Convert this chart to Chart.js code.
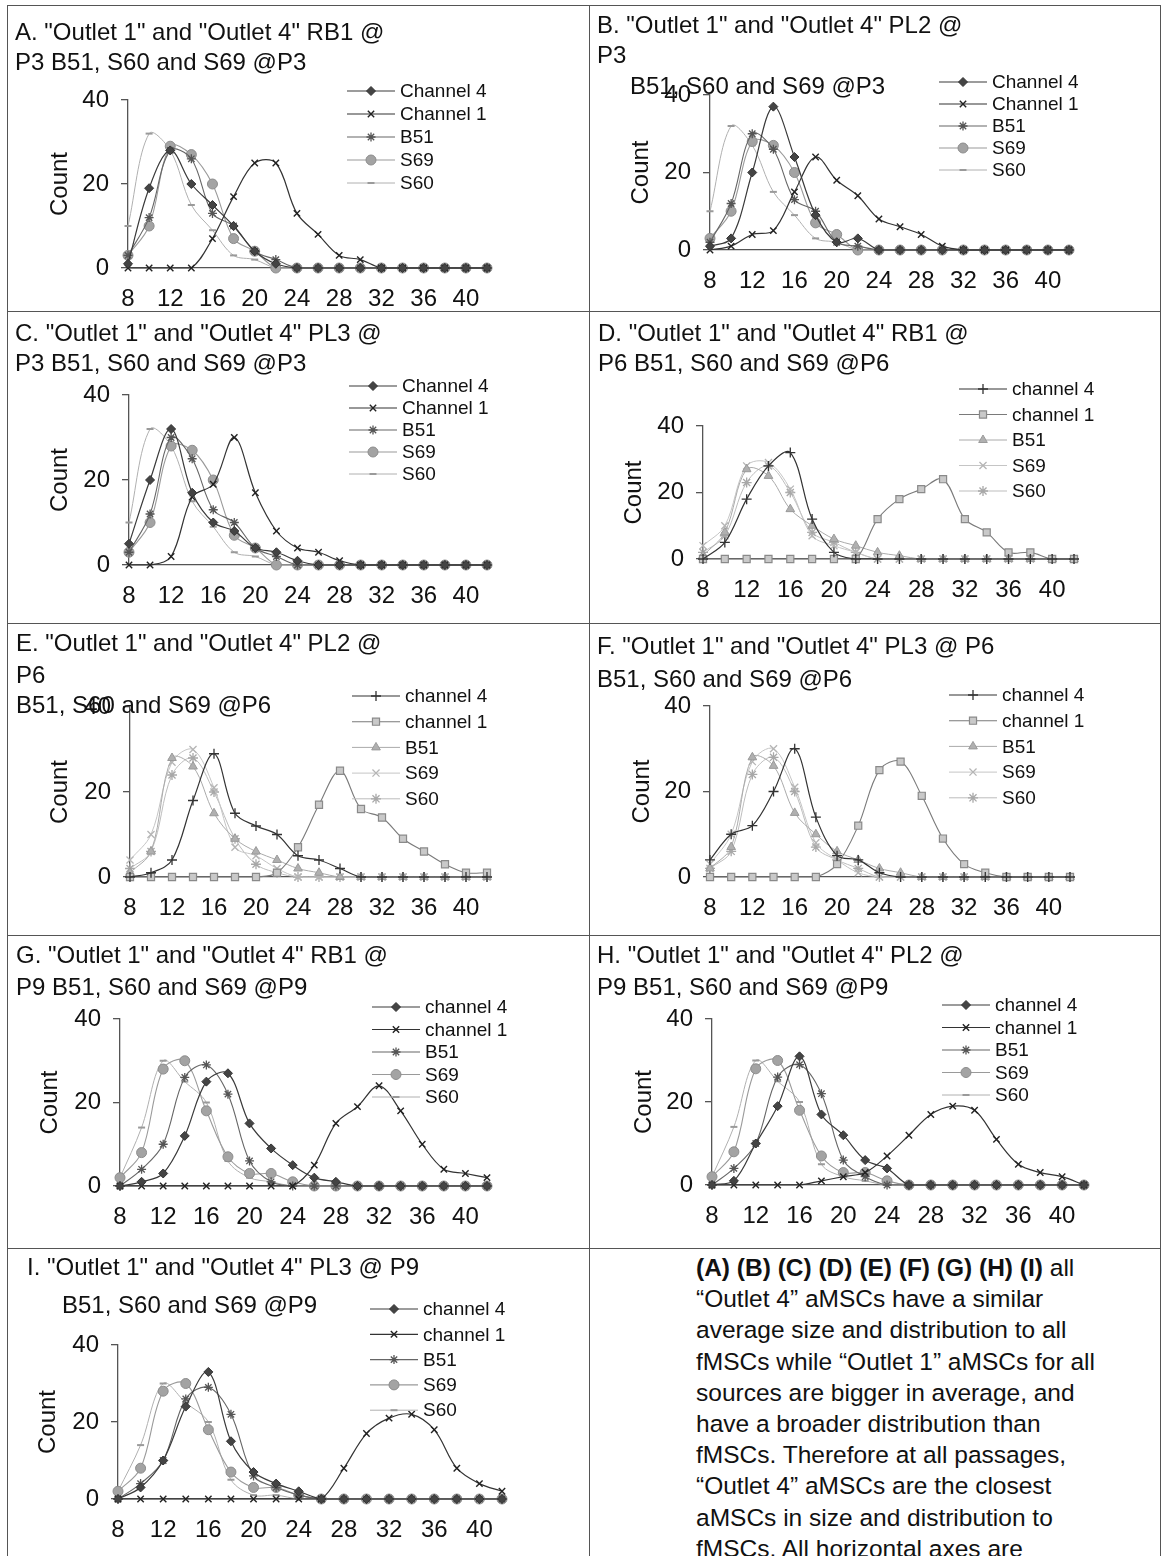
<!DOCTYPE html>
<html>
<head>
<meta charset="utf-8">
<script src="https://cdn.jsdelivr.net/npm/chart.js@4.4.1/dist/chart.umd.min.js"></script>
<style>
  html,body{margin:0;padding:0;background:#fff;}
  body{position:relative;width:1163px;height:1556px;overflow:hidden;font-family:"Liberation Sans",Arial,sans-serif;color:#111;}
  .hl{position:absolute;height:0;border-top:1.5px solid #555;}
  .vl{position:absolute;width:0;border-left:1.5px solid #555;}
  canvas{position:absolute;}
  .tl{position:absolute;font-size:24px;line-height:30px;white-space:pre;color:#111;}
  #note{position:absolute;left:696px;top:1252px;font-size:24.5px;line-height:31.2px;white-space:pre;color:#111;}
</style>
</head>
<body>
<div id="frame"></div>
<div id="note"><b>(A) (B) (C) (D) (E) (F) (G) (H) (I)</b> all
“Outlet 4” aMSCs have a similar
average size and distribution to all
fMSCs while “Outlet 1” aMSCs for all
sources are bigger in average, and
have a broader distribution than
fMSCs. Therefore at all passages,
“Outlet 4” aMSCs are the closest
aMSCs in size and distribution to
fMSCs. All horizontal axes are</div>
<script>
// ---------------- DATA ----------------
const xs = [8,10,12,14,16,18,20,22,24,26,28,30,32,34,36,38,40,42];
const xTickLabels = [8,12,16,20,24,28,32,36,40];
const yTicks = [0,20,40];
const namesCap = ['Channel 4','Channel 1','B51','S69','S60'];
const namesLow = ['channel 4','channel 1','B51','S69','S60'];

// A: RB1 @P3
const aCh4 = [1,19,28,20,15,10,4,1,0,0,0,0,0,0,0,0,0,0];
const aCh1 = [0,0,0,0,7,17,25,25,13,8,3,2,0,0,0,0,0,0];
const aB51 = [3,12,28,26,13,10,4,2,0,0,0,0,0,0,0,0,0,0];
const aS69 = [3,10,29,27,20,7,4,0,0,0,0,0,0,0,0,0,0,0];
const aS60 = [10,32,28,15,9,3,2,0,0,0,0,0,0,0,0,0,0,0];
// B: PL2 @P3
const bCh4 = [1,3,20,37,24,9,2,3,0,0,0,0,0,0,0,0,0,0];
const bCh1 = [0,1,4,5,15,24,18,14,8,6,4,1,0,0,0,0,0,0];
const bB51 = [2,12,30,26,13,10,2,1,0,0,0,0,0,0,0,0,0,0];
const bS69 = [3,10,28,27,20,7,4,0,0,0,0,0,0,0,0,0,0,0];
const bS60 = [10,32,27,15,9,3,2,0,0,0,0,0,0,0,0,0,0,0];
// C: PL3 @P3
const cCh4 = [5,20,32,17,10,8,4,3,1,0,0,0,0,0,0,0,0,0];
const cCh1 = [0,0,2,16,19,30,17,8,4,3,1,0,0,0,0,0,0,0];
const cB51 = [3,12,30,25,13,10,4,2,0,0,0,0,0,0,0,0,0,0];
const cS69 = [3,10,28,27,20,7,4,0,0,0,0,0,0,0,0,0,0,0];
const cS60 = [10,32,28,15,9,3,2,0,0,0,0,0,0,0,0,0,0,0];
// D: RB1 @P6
const dCh4 = [0,5,18,28,32,12,2,0,0,0,0,0,0,0,0,0,0,0];
const dCh1 = [0,0,0,0,0,0,0,0,12,18,21,24,12,8,2,2,0,0];
const dB51 = [1,8,27,25,15,10,6,4,2,1,0,0,0,0,0,0,0,0];
const dS69 = [4,10,28,29,21,7,4,2,0,0,0,0,0,0,0,0,0,0];
const dS60 = [2,7,23,28,20,8,5,2,0,0,0,0,0,0,0,0,0,0];
// E: PL2 @P6
const eCh4 = [0,1,4,18,29,15,12,10,5,4,2,0,0,0,0,0,0,0];
const eCh1 = [0,0,0,0,0,0,0,1,7,17,25,16,14,9,6,3,1,1];
const eB51 = [1,6,28,26,15,9,6,4,2,1,0,0,0,0,0,0,0,0];
const eS69 = [4,10,27,30,21,7,5,2,0,0,0,0,0,0,0,0,0,0];
const eS60 = [2,6,24,28,20,9,3,1,0,0,0,0,0,0,0,0,0,0];
// F: PL3 @P6
const fCh4 = [4,10,12,20,30,14,5,4,1,0,0,0,0,0,0,0,0,0];
const fCh1 = [0,0,0,0,0,0,3,12,25,27,19,9,3,1,0,0,0,0];
const fB51 = [2,7,28,26,15,10,6,4,2,1,0,0,0,0,0,0,0,0];
const fS69 = [3,10,27,30,21,8,4,1,0,0,0,0,0,0,0,0,0,0];
const fS60 = [2,6,24,28,20,7,4,2,0,0,0,0,0,0,0,0,0,0];
// G: RB1 @P9
const gCh4 = [0,1,3,12,25,27,15,9,5,2,1,0,0,0,0,0,0,0];
const gCh1 = [0,0,0,0,0,0,0,0,0,5,15,19,24,18,10,4,3,2];
const gB51 = [0,4,10,26,29,22,6,1,0,0,0,0,0,0,0,0,0,0];
const gS69 = [2,8,28,30,18,7,3,3,1,0,0,0,0,0,0,0,0,0];
const gS60 = [2,14,30,25,20,6,2,1,0,0,0,0,0,0,0,0,0,0];
// H: PL2 @P9
const hCh4 = [0,1,10,19,31,17,12,6,4,0,0,0,0,0,0,0,0,0];
const hCh1 = [0,0,0,0,0,1,2,3,7,12,17,19,18,11,5,3,2,0];
const hB51 = [0,4,10,26,29,22,6,2,0,0,0,0,0,0,0,0,0,0];
const hS69 = [2,8,28,30,18,7,3,3,1,0,0,0,0,0,0,0,0,0];
const hS60 = [2,14,30,25,20,5,2,1,0,0,0,0,0,0,0,0,0,0];
// I: PL3 @P9
const iCh4 = [0,3,10,24,33,15,7,4,2,0,0,0,0,0,0,0,0,0];
const iCh1 = [0,0,0,0,0,0,0,0,0,0,8,17,21,22,18,8,4,2];
const iB51 = [0,4,10,26,29,22,6,3,1,0,0,0,0,0,0,0,0,0];
const iS69 = [2,8,28,30,18,7,3,3,1,0,0,0,0,0,0,0,0,0];
const iS60 = [2,14,30,25,20,5,1,1,0,0,0,0,0,0,0,0,0,0];

// ---------------- STYLES ----------------
const FONT = '"Liberation Sans", Arial, sans-serif';
const styleDiamond = [
  {ps:'rectRot',  pc:'#333', pf:'#444', r:4.5, pw:1,   lc:'#3a3a3a', lw:1.2},
  {ps:'crossRot', pc:'#222', pf:'#222', r:4.5, pw:1.4, lc:'#333',    lw:1.2},
  {ps:'star',     pc:'#555', pf:'#555', r:4.5, pw:1.3, lc:'#666',    lw:1.1},
  {ps:'circle',   pc:'#8c8c8c', pf:'#a3a3a3', r:5, pw:1, lc:'#9a9a9a', lw:1.1},
  {ps:'line',     pc:'#9a9a9a', pf:'#9a9a9a', r:3.5, pw:2, lc:'#b0b0b0', lw:1}
];
const stylePlus = [
  {ps:'cross',    pc:'#333', pf:'#333', r:5, pw:1.3, lc:'#333', lw:1.2},
  {ps:'rect',     pc:'#8a8a8a', pf:'#c9c9c9', r:5, pw:1.2, lc:'#7a7a7a', lw:1.1},
  {ps:'triangle', pc:'#9a9a9a', pf:'#b0b0b0', r:5, pw:1, lc:'#aaa', lw:1},
  {ps:'crossRot', pc:'#b5b5b5', pf:'#b5b5b5', r:5, pw:1.3, lc:'#c5c5c5', lw:1},
  {ps:'star',     pc:'#a8a8a8', pf:'#a8a8a8', r:5, pw:1.3, lc:'#bdbdbd', lw:1}
];

// ---------------- LAYOUT ----------------
const panels = [
  {cell:[7,5],   h:312, area:{L:121,R:480,T:95, B:263}, cx:53, lg:{x:340,y:86,dy:23},
   titles:[['A. "Outlet 1" and "Outlet 4" RB1 @',15,32],['P3 B51, S60 and S69 @P3',15,62]],
   st:styleDiamond, names:namesCap, data:[aCh4,aCh1,aB51,aS69,aS60]},
  {cell:[589,5], h:312, area:{L:121,R:480,T:90, B:245}, cx:52, lg:{x:350,y:77,dy:22},
   titles:[['B. "Outlet 1" and "Outlet 4" PL2 @',597,25],['P3',597,55],['B51, S60 and S69 @P3',630,86]],
   st:styleDiamond, names:namesCap, data:[bCh4,bCh1,bB51,bS69,bS60]},
  {cell:[7,311], h:312, area:{L:122,R:480,T:84, B:254}, cx:53, lg:{x:342,y:75,dy:22},
   titles:[['C. "Outlet 1" and "Outlet 4" PL3 @',15,333],['P3 B51, S60 and S69 @P3',15,363]],
   st:styleDiamond, names:namesCap, data:[cCh4,cCh1,cB51,cS69,cS60]},
  {cell:[589,311], h:312, area:{L:114,R:485,T:115,B:248}, cx:45, lg:{x:370,y:78,dy:25.5},
   titles:[['D. "Outlet 1" and "Outlet 4" RB1 @',598,333],['P6 B51, S60 and S69 @P6',598,363]],
   st:stylePlus, names:namesLow, data:[dCh4,dCh1,dB51,dS69,dS60]},
  {cell:[7,623], h:312, area:{L:123,R:480,T:84, B:254}, cx:53, lg:{x:345,y:73,dy:25.7},
   titles:[['E. "Outlet 1" and "Outlet 4" PL2 @',16,643],['P6',16,675],['B51, S60 and S69 @P6',16,705]],
   st:stylePlus, names:namesLow, data:[eCh4,eCh1,eB51,eS69,eS60]},
  {cell:[589,623], h:312, area:{L:121,R:481,T:83, B:254}, cx:53, lg:{x:360,y:72,dy:25.7},
   titles:[['F. "Outlet 1" and "Outlet 4" PL3 @ P6',597,646],['B51, S60 and S69 @P6',597,679]],
   st:stylePlus, names:namesLow, data:[fCh4,fCh1,fB51,fS69,fS60]},
  {cell:[7,935], h:312, area:{L:113,R:480,T:84, B:251}, cx:43, lg:{x:365,y:72,dy:22.5},
   titles:[['G. "Outlet 1" and "Outlet 4" RB1 @',16,955],['P9 B51, S60 and S69 @P9',16,987]],
   st:styleDiamond, names:namesLow, data:[gCh4,gCh1,gB51,gS69,gS60]},
  {cell:[589,935], h:312, area:{L:123,R:495,T:84, B:250}, cx:55, lg:{x:353,y:70,dy:22.5},
   titles:[['H. "Outlet 1" and "Outlet 4" PL2 @',597,955],['P9 B51, S60 and S69 @P9',597,987]],
   st:styleDiamond, names:namesLow, data:[hCh4,hCh1,hB51,hS69,hS60]},
  {cell:[7,1248], h:308, area:{L:111,R:495,T:97, B:251}, cx:41, lg:{x:363,y:61,dy:25.3},
   titles:[['I. "Outlet 1" and "Outlet 4" PL3 @ P9',27,1267],['B51, S60 and S69 @P9',62,1305]],
   st:styleDiamond, names:namesLow, data:[iCh4,iCh1,iB51,iS69,iS60]}
];

// frame lines
const frame = document.getElementById('frame');
[5,311,623,935,1248].forEach(y=>{
  const d=document.createElement('div'); d.className='hl';
  d.style.left='7px'; d.style.top=y+'px'; d.style.width='1154px'; frame.appendChild(d);
});
[7,589,1160].forEach(x=>{
  const d=document.createElement('div'); d.className='vl';
  d.style.left=x+'px'; d.style.top='5px'; d.style.height='1560px'; frame.appendChild(d);
});

// corner legend plugin (line + marker + text)
const cornerLegend = {
  id:'cornerLegend',
  afterDraw(chart){
    const o = chart.options.plugins.cornerLegend; if(!o) return;
    const ctx = chart.ctx;
    chart.data.datasets.forEach((ds,i)=>{
      const y = o.y + i*o.dy, x0 = o.x, len = o.len;
      ctx.save();
      ctx.strokeStyle = ds.borderColor; ctx.lineWidth = ds.borderWidth;
      ctx.beginPath(); ctx.moveTo(x0,y); ctx.lineTo(x0+len,y); ctx.stroke();
      ctx.fillStyle = ds.pointBackgroundColor; ctx.strokeStyle = ds.pointBorderColor;
      ctx.lineWidth = ds.pointBorderWidth;
      Chart.helpers.drawPoint(ctx,{pointStyle:ds.pointStyle,radius:ds.pointRadius,borderWidth:ds.pointBorderWidth,rotation:0},x0+len/2,y);
      ctx.fillStyle='#111'; ctx.font='19px '+FONT; ctx.textAlign='left'; ctx.textBaseline='middle';
      ctx.fillText(ds.label, x0+len+5, y+1);
      ctx.restore();
    });
  }
};

const XH = 44, TITLE_LH = 24*1.2;
panels.forEach(p=>{
  const W = 582, H = p.h;
  const cv = document.createElement('canvas');
  cv.width = W; cv.height = H;
  cv.style.left = p.cell[0]+'px'; cv.style.top = p.cell[1]+'px';
  cv.style.width = W+'px'; cv.style.height = H+'px';
  document.body.insertBefore(cv, frame);
  const padL = p.cx - TITLE_LH/2;
  const YW = p.area.L - padL;
  const padB = Math.max(0, H - p.area.B - XH);
  const datasets = p.data.map((d,i)=>{
    const s = p.st[i];
    return {label:p.names[i], data:d, borderColor:s.lc, borderWidth:s.lw, backgroundColor:s.pf,
      pointStyle:s.ps, pointRadius:s.r, pointHoverRadius:s.r, pointBorderColor:s.pc, pointBackgroundColor:s.pf,
      pointBorderWidth:s.pw, tension:0.35, fill:false, clip:false};
  });
  new Chart(cv,{
    type:'line',
    data:{labels:xs.map(String), datasets},
    options:{
      responsive:false, animation:false, devicePixelRatio:1,
      events:[],
      layout:{padding:{left:padL, right:W-p.area.R, top:p.area.T, bottom:padB}},
      plugins:{legend:{display:false}, tooltip:{enabled:false}, title:{display:false},
        cornerLegend:{x:p.lg.x, y:p.lg.y, dy:p.lg.dy, len:48}},
      scales:{
        x:{type:'category', offset:false,
           grid:{display:false, drawTicks:false},
           border:{display:true, color:'#555', width:1.3},
           ticks:{autoSkip:false, maxRotation:0, minRotation:0, padding:17, color:'#111',
             font:{family:FONT, size:24},
             callback:(v,i)=> xTickLabels.includes(xs[i]) ? String(xs[i]) : ''},
           afterFit:s=>{s.height = H - p.area.B - padB;}},
        y:{min:yTicks[0], max:yTicks[yTicks.length-1],
           afterBuildTicks:s=>{s.ticks = yTicks.map(v=>({value:v}));},
           grid:{display:true, drawOnChartArea:false, drawTicks:true, tickLength:7, color:'#555', lineWidth:1.3},
           border:{display:true, color:'#555', width:1.3},
           ticks:{padding:12, color:'#111', font:{family:FONT, size:24}},
           title:{display:true, text:'Count', color:'#111', font:{family:FONT, size:24}, padding:0},
           afterFit:s=>{s.width = YW;}}
      }
    },
    plugins:[cornerLegend]
  });
  p.titles.forEach(t=>{
    const d = document.createElement('div'); d.className='tl';
    d.textContent = t[0]; d.style.left = t[1]+'px'; d.style.top = (t[2]-15)+'px';
    document.body.appendChild(d);
  });
});
</script>
</body>
</html>
